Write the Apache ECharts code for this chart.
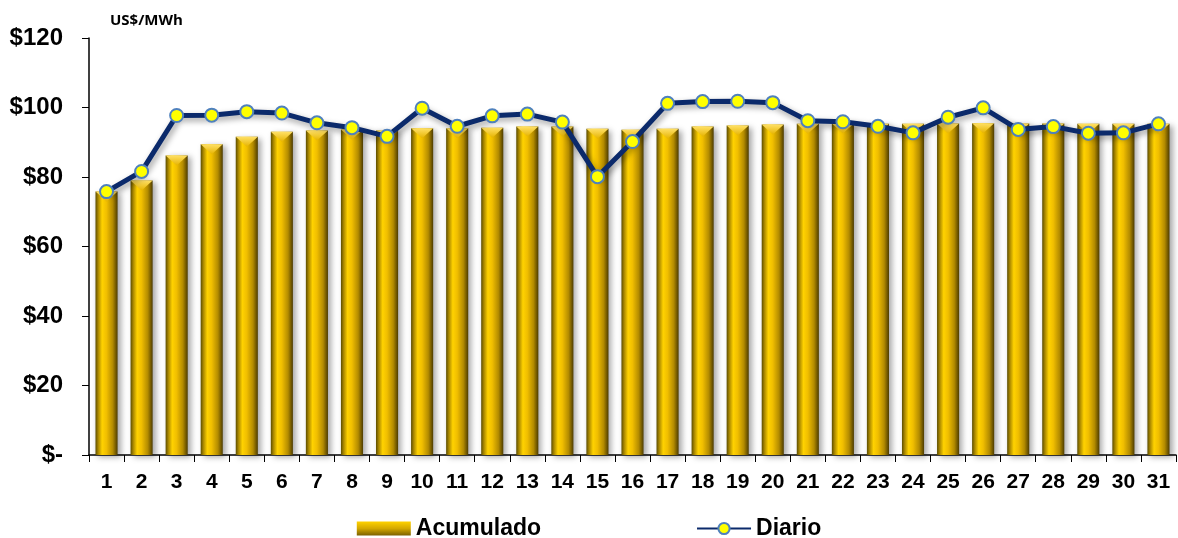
<!DOCTYPE html>
<html>
<head>
<meta charset="utf-8">
<script src="https://cdn.jsdelivr.net/npm/echarts@6/dist/echarts.min.js"></script>
<style>
html,body{margin:0;padding:0;background:#fff;}
#c{width:1178px;height:538px;}
</style>
</head>
<body>
<div id="c"></div>
<script>
const days = ['1','2','3','4','5','6','7','8','9','10','11','12','13','14','15','16','17','18','19','20','21','22','23','24','25','26','27','28','29','30','31'];
const acumulado = [75.8,79.0,86.2,89.4,91.6,93.0,93.4,93.7,93.4,94.0,94.0,94.2,94.5,94.5,93.9,93.6,93.9,94.5,94.8,95.1,95.3,95.4,95.3,95.3,95.4,95.5,95.4,95.4,95.3,95.3,95.3];
const diario = [75.8,81.6,97.7,97.8,98.8,98.4,95.6,94.2,91.7,99.8,94.6,97.6,98.1,95.8,80.1,90.2,101.2,101.7,101.8,101.4,96.2,95.9,94.6,92.7,97.2,99.9,93.7,94.5,92.6,92.7,95.3];
const yTicks = [0,20,40,60,80,100,120];

const barGrad = new echarts.graphic.LinearGradient(0,0,1,0,[
  {offset:0,color:'#5c4d00'},
  {offset:0.12,color:'#a88600'},
  {offset:0.3,color:'#ffd200'},
  {offset:0.5,color:'#f0be00'},
  {offset:0.78,color:'#b38b00'},
  {offset:1,color:'#4d3c00'}
]);
const legendGrad = new echarts.graphic.LinearGradient(0,0,0,1,[
  {offset:0,color:'#ffd200'},
  {offset:0.5,color:'#d4a800'},
  {offset:1,color:'#7a6000'}
]);

const chart = echarts.init(document.getElementById('c'));
chart.setOption({
  animation:false,
  backgroundColor:'#fff',
  title:{text:'US$/MWh',left:105,top:8,textStyle:{fontFamily:'Open Sans',fontWeight:'bold',fontSize:15,color:'#000'}},
  grid:{left:89,right:2,top:38,bottom:83},
  legend:{
    top:512,left:'center',itemGap:155,itemWidth:54,itemHeight:14,
    textStyle:{fontFamily:'Liberation Sans',fontWeight:'bold',fontSize:23,color:'#000'},
    data:[{name:'Acumulado',icon:'rect',itemStyle:{color:legendGrad}},{name:'Diario'}]
  },
  xAxis:{
    type:'category',data:days,
    axisLine:{lineStyle:{color:'#000',width:1.5}},
    axisTick:{show:true,length:7,lineStyle:{color:'#000'}},
    axisLabel:{fontFamily:'Liberation Sans',fontWeight:'bold',fontSize:21,color:'#000',margin:17}
  },
  yAxis:{
    type:'value',min:0,max:120,interval:20,
    axisLine:{show:true,lineStyle:{color:'#000',width:1.5}},
    axisTick:{show:true,length:7,lineStyle:{color:'#000'}},
    splitLine:{show:false},
    axisLabel:{fontFamily:'Liberation Sans',fontWeight:'bold',fontSize:24,color:'#000',margin:26,
      formatter:v=> yTicks.includes(v) ? (v===0?'$-':'$'+v) : ''}
  },
  series:[
    {
      name:'Acumulado',type:'bar',data:acumulado,barWidth:'63%',
      itemStyle:{color:barGrad,shadowColor:'rgba(0,0,0,0.35)',shadowBlur:6,shadowOffsetX:3,shadowOffsetY:2},
      z:2
    },
    {
      name:'caps',type:'custom',data:acumulado.map((v,i)=>[i,v]),z:3,silent:true,
      renderItem:function(params,api){
        const p = api.coord([api.value(0),api.value(1)]);
        const w = api.size([1,0])[0]*0.63;
        const h = 10;
        return {type:'polygon',shape:{points:[[p[0]-w/2,p[1]],[p[0]+w/2,p[1]],[p[0],p[1]+h]]},
          style:{fill:new echarts.graphic.LinearGradient(0,0,0,1,[{offset:0,color:'#ffe066'},{offset:1,color:'#e6b400'}])}};
      }
    },
    {
      name:'Diario',type:'line',data:diario,z:5,
      symbol:'circle',symbolSize:13,
      lineStyle:{color:'#0b2a6b',width:5,shadowColor:'rgba(0,0,0,0.4)',shadowBlur:6,shadowOffsetX:2,shadowOffsetY:3},
      itemStyle:{color:'#ffff00',borderColor:'#4f81bd',borderWidth:2}
    }
  ]
});
</script>
</body>
</html>
